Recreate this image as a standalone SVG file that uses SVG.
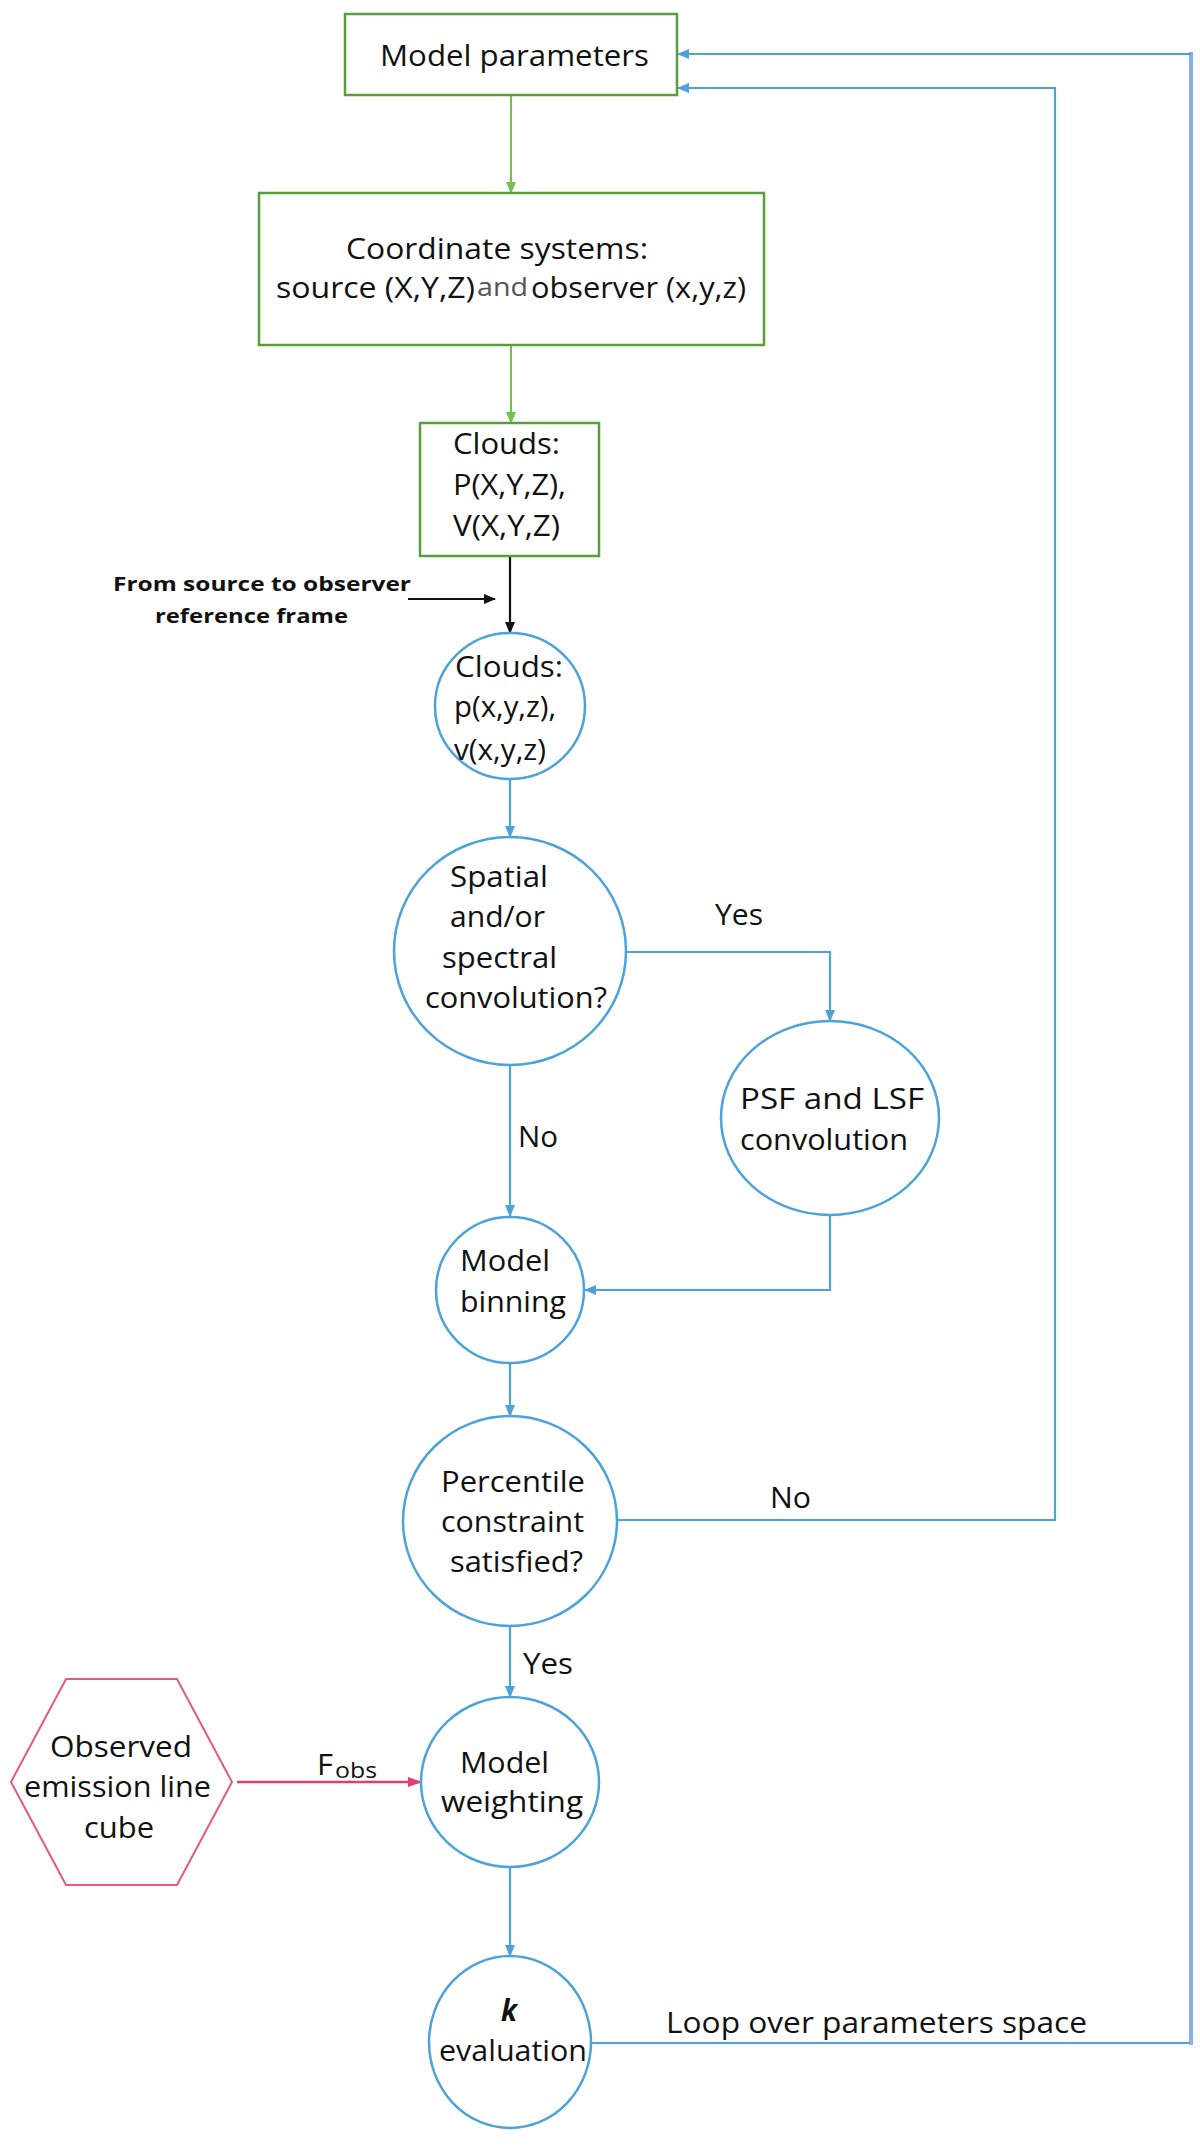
<svg xmlns="http://www.w3.org/2000/svg" width="1200" height="2155" viewBox="0 0 1200 2155">
<style>
.t{font-family:"Open Sans","Liberation Sans",sans-serif;font-size:30px;fill:#111}
.b{font-family:"Open Sans","Liberation Sans",sans-serif;font-size:20px;font-weight:bold;fill:#111}
.g{fill:#fff;stroke:#5a9e3c;stroke-width:2.5}
.c{fill:#fff;stroke:#4ba3d9;stroke-width:2.5}
.h{fill:#fff;stroke:#e8587e;stroke-width:2}
.lg{fill:none;stroke:#72c34c;stroke-width:2}
.lb{fill:none;stroke:#4ba3d9;stroke-width:2.2}
.lk{fill:none;stroke:#111;stroke-width:2.2}
.lr{fill:none;stroke:#e23e6a;stroke-width:2.5}
</style>
<defs>
<marker id="ag" markerUnits="userSpaceOnUse" markerWidth="12" markerHeight="12" viewBox="0 0 12 12" refX="11" refY="6" orient="auto"><path d="M0,1 L12,6 L0,11 z" fill="#72c34c"/></marker>
<marker id="ab" markerUnits="userSpaceOnUse" markerWidth="12" markerHeight="12" viewBox="0 0 12 12" refX="11" refY="6" orient="auto"><path d="M0,1 L12,6 L0,11 z" fill="#4ba3d9"/></marker>
<marker id="ak" markerUnits="userSpaceOnUse" markerWidth="12" markerHeight="12" viewBox="0 0 12 12" refX="11" refY="6" orient="auto"><path d="M0,1 L12,6 L0,11 z" fill="#111"/></marker>
<marker id="ar" markerUnits="userSpaceOnUse" markerWidth="14" markerHeight="12" viewBox="0 0 14 12" refX="13" refY="6" orient="auto"><path d="M0,1 L14,6 L0,11 z" fill="#e23e6a"/></marker>
</defs>
<rect width="1200" height="2155" fill="#fff"/>
<g id="connectors">
<line class="lg" x1="511" y1="95" x2="511" y2="193" marker-end="url(#ag)"/>
<line class="lg" x1="511" y1="345" x2="511" y2="423" marker-end="url(#ag)"/>
<line class="lk" x1="510" y1="556" x2="510" y2="633" marker-end="url(#ak)"/>
<line class="lk" x1="408" y1="599" x2="495" y2="599" marker-end="url(#ak)"/>
<line class="lb" x1="510" y1="780" x2="510" y2="837" marker-end="url(#ab)"/>
<polyline class="lb" points="626,952 830,952 830,1021" marker-end="url(#ab)"/>
<line class="lb" x1="510" y1="1065" x2="510" y2="1216" marker-end="url(#ab)"/>
<polyline class="lb" points="830,1215 830,1290 585,1290" marker-end="url(#ab)"/>
<line class="lb" x1="510" y1="1363" x2="510" y2="1416" marker-end="url(#ab)"/>
<polyline class="lb" points="617,1520 1055,1520 1055,88 678,88" marker-end="url(#ab)"/>
<line class="lb" x1="510" y1="1627" x2="510" y2="1697" marker-end="url(#ab)"/>
<line class="lr" x1="237" y1="1782" x2="421" y2="1782" marker-end="url(#ar)"/>
<line class="lb" x1="510" y1="1868" x2="510" y2="1956" marker-end="url(#ab)"/>
<polyline class="lb" points="591,2043 1191,2043"/>
<line x1="1191" y1="52" x2="1191" y2="2045" stroke="#86b0ec" stroke-width="4"/>
<line class="lb" x1="1191" y1="54" x2="678" y2="54" marker-end="url(#ab)"/>
<text class="t" x="715" y="925" textLength="48" lengthAdjust="spacingAndGlyphs">Yes</text>
<text class="t" x="518" y="1147" textLength="40" lengthAdjust="spacingAndGlyphs">No</text>
<text class="t" x="770" y="1508" textLength="41" lengthAdjust="spacingAndGlyphs">No</text>
<text class="t" x="523" y="1674" textLength="50" lengthAdjust="spacingAndGlyphs">Yes</text>
<text class="t" x="317" y="1775" textLength="16" lengthAdjust="spacingAndGlyphs">F</text>
<text class="t" x="335" y="1778" style="font-size:21px" textLength="42" lengthAdjust="spacingAndGlyphs">obs</text>
<text class="t" x="666" y="2033" textLength="421" lengthAdjust="spacingAndGlyphs">Loop over parameters space</text>
<text class="b" x="113" y="591" textLength="298" lengthAdjust="spacingAndGlyphs">From source to observer</text>
<text class="b" x="155" y="623" textLength="193" lengthAdjust="spacingAndGlyphs">reference frame</text>
</g>
<g id="model-parameters">
<rect class="g" x="345" y="14" width="332" height="81"/>
<text class="t" x="380" y="66" textLength="269" lengthAdjust="spacingAndGlyphs">Model parameters</text>
</g>
<g id="coordinate-systems">
<rect class="g" x="259" y="193" width="505" height="152"/>
<text class="t" x="346" y="259" textLength="302" lengthAdjust="spacingAndGlyphs">Coordinate systems:</text>
<text class="t" x="276" y="298" textLength="199" lengthAdjust="spacingAndGlyphs">source (X,Y,Z)</text>
<text class="t" x="477" y="296" style="font-size:25px;fill:#555" textLength="51" lengthAdjust="spacingAndGlyphs">and</text>
<text class="t" x="531" y="298" textLength="215" lengthAdjust="spacingAndGlyphs">observer (x,y,z)</text>
</g>
<g id="clouds-source">
<rect class="g" x="420" y="423" width="179" height="133"/>
<text class="t" x="453" y="454" textLength="107" lengthAdjust="spacingAndGlyphs">Clouds:</text>
<text class="t" x="453" y="495" textLength="113" lengthAdjust="spacingAndGlyphs">P(X,Y,Z),</text>
<text class="t" x="453" y="536" textLength="107" lengthAdjust="spacingAndGlyphs">V(X,Y,Z)</text>
</g>
<g id="clouds-observer">
<ellipse class="c" cx="510" cy="706" rx="75" ry="73"/>
<text class="t" x="455" y="677" textLength="108" lengthAdjust="spacingAndGlyphs">Clouds:</text>
<text class="t" x="454" y="717" textLength="102" lengthAdjust="spacingAndGlyphs">p(x,y,z),</text>
<text class="t" x="454" y="760" textLength="92" lengthAdjust="spacingAndGlyphs">v(x,y,z)</text>
</g>
<g id="convolution-decision">
<ellipse class="c" cx="510" cy="951" rx="116" ry="114"/>
<text class="t" x="450" y="887" textLength="98" lengthAdjust="spacingAndGlyphs">Spatial</text>
<text class="t" x="450" y="927" textLength="95" lengthAdjust="spacingAndGlyphs">and/or</text>
<text class="t" x="442" y="968" textLength="115" lengthAdjust="spacingAndGlyphs">spectral</text>
<text class="t" x="425" y="1008" textLength="182" lengthAdjust="spacingAndGlyphs">convolution?</text>
</g>
<g id="psf-lsf">
<ellipse class="c" cx="830" cy="1118" rx="109" ry="97"/>
<text class="t" x="740" y="1109" textLength="184" lengthAdjust="spacingAndGlyphs">PSF and LSF</text>
<text class="t" x="740" y="1150" textLength="168" lengthAdjust="spacingAndGlyphs">convolution</text>
</g>
<g id="model-binning">
<ellipse class="c" cx="510" cy="1290" rx="74" ry="73"/>
<text class="t" x="460" y="1271" textLength="90" lengthAdjust="spacingAndGlyphs">Model</text>
<text class="t" x="460" y="1312" textLength="106" lengthAdjust="spacingAndGlyphs">binning</text>
</g>
<g id="percentile-decision">
<ellipse class="c" cx="510" cy="1521" rx="107" ry="105"/>
<text class="t" x="441" y="1492" textLength="144" lengthAdjust="spacingAndGlyphs">Percentile</text>
<text class="t" x="441" y="1532" textLength="143" lengthAdjust="spacingAndGlyphs">constraint</text>
<text class="t" x="450" y="1572" textLength="133" lengthAdjust="spacingAndGlyphs">satisfied?</text>
</g>
<g id="observed-cube">
<polygon class="h" points="66,1679 177,1679 232,1782 177,1885 66,1885 11,1782"/>
<text class="t" x="50" y="1757" textLength="142" lengthAdjust="spacingAndGlyphs">Observed</text>
<text class="t" x="24" y="1797" textLength="187" lengthAdjust="spacingAndGlyphs">emission line</text>
<text class="t" x="84" y="1838" textLength="70" lengthAdjust="spacingAndGlyphs">cube</text>
</g>
<g id="model-weighting">
<ellipse class="c" cx="510" cy="1782" rx="89" ry="85"/>
<text class="t" x="460" y="1773" textLength="89" lengthAdjust="spacingAndGlyphs">Model</text>
<text class="t" x="441" y="1812" textLength="142" lengthAdjust="spacingAndGlyphs">weighting</text>
</g>
<g id="k-evaluation">
<ellipse class="c" cx="510" cy="2042" rx="81" ry="86"/>
<text class="t" x="501" y="2021" style="font-weight:bold;font-style:italic" textLength="16" lengthAdjust="spacingAndGlyphs">k</text>
<text class="t" x="439" y="2061" textLength="148" lengthAdjust="spacingAndGlyphs">evaluation</text>
</g>
</svg>
